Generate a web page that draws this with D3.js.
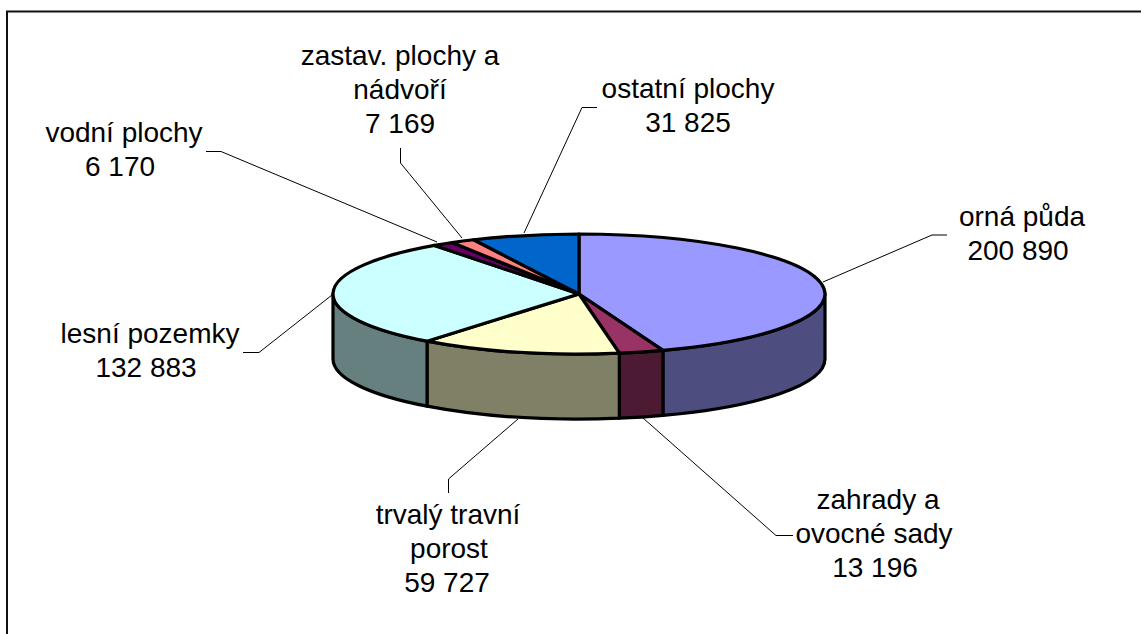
<!DOCTYPE html>
<html>
<head>
<meta charset="utf-8">
<script src="https://cdn.jsdelivr.net/npm/d3@7"></script>
<style>
  html, body { margin: 0; padding: 0; background: #fff; }
  svg { display: block; }
  text { font-family: "Liberation Sans", Arial, sans-serif; font-size: 28px; fill: #000; text-anchor: middle; }
</style>
</head>
<body>
<svg id="main" width="1141" height="634"></svg>
<script>
// values in hectares, clockwise from the top of the pie
var categories = ["orná půda", "zahrady a ovocné sady", "trvalý travní porost", "lesní pozemky", "vodní plochy", "zastav. plochy a nádvoří", "ostatní plochy"];
var values = [200890, 13196, 59727, 132883, 6170, 7169, 31825];
var valueLabels = ["200 890", "13 196", "59 727", "132 883", "6 170", "7 169", "31 825"];
var topColors = ["#9999ff", "#993366", "#ffffcc", "#ccffff", "#660066", "#ff8080", "#0066cc"];
var sideColors = ["#4d4d80", "#4d1a33", "#808066", "#668080", "#330033", "#804040", "#003366"];

var labelLines = [["orná půda"], ["zahrady a", "ovocné sady"], ["trvalý travní", "porost"], ["lesní pozemky"], ["vodní plochy"], ["zastav. plochy a", "nádvoří"], ["ostatní plochy"]];
var labelPos = [[1022, 226], [874, 509], [449, 524], [150, 343], [124, 142], [400, 65], [688, 98]];
// the rows of a label are not quite centred on each other
var rowShift = [[0, -4], [4, 0, 1], [-1, 0, -2], [0, -4], [0, -4], [0, 0, 0], [0, 0]];
var leaders = [
  [[823, 282], [932, 235], [947, 235]],
  [[643, 418], [776, 535.5], [793, 535.5]],
  [[518, 419], [448.5, 479], [448.5, 493]],
  [[332, 295], [259, 352.5], [243, 352.5]],
  [[437, 242], [221, 151.5], [206, 151.5]],
  [[462, 238], [400.5, 163], [400.5, 148]],
  [[524, 233], [582, 107.5], [597, 107.5]]
];

var svg = d3.select("#main");
var cx = 579, cy = 294, rx = 246, ry = 60, depth = 65;

// unit circle -> squashed ellipse
var px = d3.scaleLinear().domain([-1, 1]).range([cx - rx, cx + rx]);
var py = d3.scaleLinear().domain([-1, 1]).range([cy - ry, cy + ry]);
function ex(a) { return px(Math.sin(a)); }
function ey(a) { return py(-Math.cos(a)); }

var slices = d3.pie().sort(null)(values);

// chart frame, only left and top edges are in the picture
svg.append("path")
  .attr("d", "M7 634 L7 11.5 L1141 11.5")
  .attr("fill", "none").attr("stroke", "#111").attr("stroke-width", 2);

// side walls, only the front half of the pie shows
slices.forEach(function(s, i) {
  var a0 = Math.max(s.startAngle, Math.PI / 2), a1 = Math.min(s.endAngle, Math.PI * 3 / 2);
  if (a0 >= a1) return;
  var d = "M" + ex(a0) + " " + ey(a0)
    + " A" + rx + " " + ry + " 0 0 1 " + ex(a1) + " " + ey(a1)
    + " L" + ex(a1) + " " + (ey(a1) + depth)
    + " A" + rx + " " + ry + " 0 0 0 " + ex(a0) + " " + (ey(a0) + depth) + " Z";
  svg.append("path").attr("d", d)
    .attr("fill", sideColors[i]).attr("stroke", "#000").attr("stroke-width", 3.2).attr("stroke-linejoin", "round");
});

// top face
slices.forEach(function(s, i) {
  var large = s.endAngle - s.startAngle > Math.PI ? 1 : 0;
  var d = "M" + cx + " " + cy + " L" + ex(s.startAngle) + " " + ey(s.startAngle)
    + " A" + rx + " " + ry + " 0 " + large + " 1 " + ex(s.endAngle) + " " + ey(s.endAngle) + " Z";
  svg.append("path").attr("d", d)
    .attr("fill", topColors[i]).attr("stroke", "#000").attr("stroke-width", 3.2).attr("stroke-linejoin", "round");
});

// leader lines
var line = d3.line();
leaders.forEach(function(l) {
  svg.append("path").attr("d", line(l)).attr("fill", "none").attr("stroke", "#000").attr("stroke-width", 1);
});

// labels
var lineH = 34;
categories.forEach(function(c, i) {
  var t = svg.append("text").attr("x", labelPos[i][0]).attr("y", labelPos[i][1]);
  labelLines[i].concat(valueLabels[i]).forEach(function(row, k) {
    t.append("tspan").attr("x", labelPos[i][0] + rowShift[i][k]).attr("dy", k == 0 ? 0 : lineH).text(row);
  });
});
</script>
</body>
</html>
